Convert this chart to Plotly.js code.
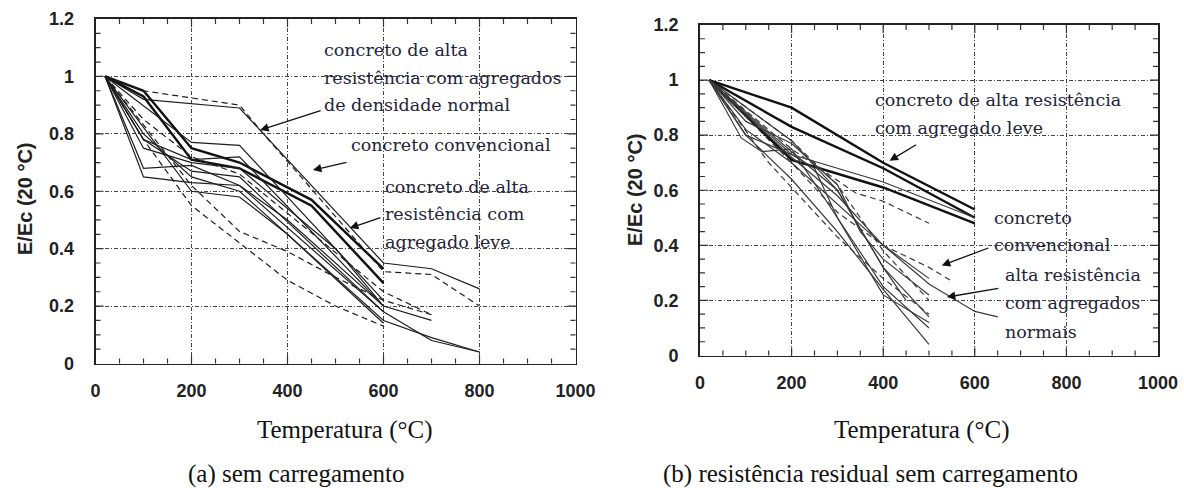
<!DOCTYPE html>
<html><head><meta charset="utf-8">
<script src="https://cdn.plot.ly/plotly-3.0.1.min.js"></script>
<style>html,body{margin:0;padding:0;background:#fff}#chart{width:1184px;height:488px}</style>
</head><body><div id="chart"></div>
<script>
// ---- (a) sem carregamento : solid series ----
const aSolidX = [
  [20,100,300,600,700,800],
  [20,100,200,300,450,600],
  [20,100,200,300,450,600],
  [20,200,300,600],
  [20,100,200,300,600],
  [20,100,200,300,500,600,700],
  [20,100,200,300,600,700,800],
  [20,100,200,300,600,700,800],
  [20,100,200,300,600],
  [20,100,200,300,400,600],
  [20,200,300,400,600]
];
const aSolidY = [
  [1,0.92,0.89,0.35,0.33,0.26],
  [1,0.95,0.75,0.70,0.57,0.33],
  [1,0.93,0.71,0.68,0.55,0.28],
  [1,0.77,0.76,0.22],
  [1,0.78,0.71,0.72,0.20],
  [1,0.75,0.70,0.68,0.40,0.20,0.15],
  [1,0.78,0.67,0.65,0.18,0.08,0.04],
  [1,0.80,0.65,0.60,0.15,0.09,0.04],
  [1,0.65,0.63,0.62,0.18],
  [1,0.68,0.69,0.62,0.50,0.20],
  [1,0.60,0.58,0.45,0.14]
];
const aThick = [false,true,true,false,false,false,false,false,false,false,false];
// ---- (a) dashed series ----
const aDashX = [
  [20,100,300,350,600,700,800],
  [20,100,200,300,400,500,600],
  [20,200,300,400,500,600,700],
  [20,100,200,300,600,700]
];
const aDashY = [
  [1,0.95,0.90,0.80,0.32,0.31,0.20],
  [1,0.78,0.55,0.42,0.29,0.20,0.13],
  [1,0.62,0.46,0.39,0.30,0.22,0.17],
  [1,0.85,0.72,0.66,0.25,0.17]
];
// ---- (b) resistência residual : solid series ----
const bSolidX = [
  [20,200,400,600],
  [20,200,400,600],
  [20,200,400,600],
  [20,200,400,600],
  [20,100,200,300,400,500],
  [20,100,200,250,300,400,500],
  [20,100,200,300,350,400,500],
  [20,100,200,300,400,500],
  [20,90,135,200,300,400,500],
  [20,200,300,400,450],
  [20,200,300,400,500,600,650],
  [20,200,300,400,500]
];
const bSolidY = [
  [1,0.90,0.70,0.53],
  [1,0.83,0.68,0.50],
  [1,0.71,0.61,0.48],
  [1,0.73,0.63,0.50],
  [1,0.80,0.64,0.45,0.24,0.04],
  [1,0.80,0.73,0.68,0.50,0.25,0.10],
  [1,0.85,0.77,0.62,0.45,0.35,0.22],
  [1,0.82,0.70,0.55,0.40,0.28],
  [1,0.79,0.74,0.75,0.50,0.22,0.12],
  [1,0.78,0.60,0.32,0.20],
  [1,0.72,0.58,0.40,0.26,0.16,0.14],
  [1,0.74,0.60,0.32,0.14]
];
const bThick = [true,true,true,false,false,false,false,false,false,false,false,false];
// ---- (b) dashed series ----
const bDashX = [
  [20,200,340,400,500],
  [20,200,300,400,500,550],
  [20,150,300,400,500],
  [20,200,300,400,500]
];
const bDashY = [
  [1,0.75,0.59,0.56,0.48],
  [1,0.70,0.52,0.40,0.32,0.27],
  [1,0.70,0.43,0.28,0.15],
  [1,0.78,0.62,0.38,0.20]
];
// ---- ticks / texts ----
const xMax = 1000, yMax = 1.2;
const xTickStep = 200, xMinorStep = 50;
const yTickStep = 0.2, yMinorStep = 0.05;
const yTitle = "E/Ec (20 °C)";
const xTitle = "Temperatura (°C)";
const captionA = "(a) sem carregamento";
const captionB = "(b) resistência residual sem carregamento";

const traces = [];
function addSet(X, Y, xa, ya, dash, thick, col){
  for (let i=0;i<X.length;i++){
    const t = thick && thick[i];
    traces.push({x:X[i], y:Y[i], xaxis:xa, yaxis:ya, type:'scatter', mode:'lines',
      hoverinfo:'skip', showlegend:false,
      line:{color: t ? '#111' : col, width: t ? 2.4 : 1.2, dash: dash ? '6px,4px' : 'solid'}});
  }
}
addSet(aSolidX, aSolidY, 'x', 'y', false, aThick, '#1e1e1e');
addSet(aDashX, aDashY, 'x', 'y', true, null, '#1e1e1e');
addSet(bSolidX, bSolidY, 'x2', 'y2', false, bThick, '#3a3a3a');
addSet(bDashX, bDashY, 'x2', 'y2', true, null, '#3a3a3a');

const W=1184, H=488;
const tickFont = {family:'Liberation Sans, Arial, sans-serif', size:18, color:'#222', weight:'bold'};
function common(){
  return {ticks:'', mirror:true, showline:true, linecolor:'#222', linewidth:1.8,
    showgrid:true, gridcolor:'#444', gridwidth:1, griddash:'4px,2px,1px,2px', zeroline:false, tickfont:tickFont, fixedrange:true};
}
function axX(domain, anchor){
  return Object.assign(common(), {domain:domain, anchor:anchor, range:[0,xMax], tickmode:'linear', tick0:0, dtick:xTickStep, ticklabelstandoff:10});
}
function axY(domain, anchor){
  return Object.assign(common(), {domain:domain, anchor:anchor, range:[0,yMax], tickmode:'linear', tick0:0, dtick:yTickStep, ticklabelstandoff:16});
}
// inside tick marks on all four sides (axis decoration)
const shapes = [];
function tickMarks(xa, ya, wPx, hPx){
  const tc = {color:'#333', width:1.2};
  const nx = Math.round(xMax / xMinorStep);
  for (let i=1;i<nx;i++){
    const v = i * xMinorStep, len = (i % Math.round(xTickStep/xMinorStep) === 0 ? 8 : 5) / hPx;
    shapes.push({type:'line', xref:xa, yref:ya+' domain', x0:v, x1:v, y0:0, y1:len, line:tc, layer:'above'});
    shapes.push({type:'line', xref:xa, yref:ya+' domain', x0:v, x1:v, y0:1, y1:1-len, line:tc, layer:'above'});
  }
  const ny = Math.round(yMax / yMinorStep);
  for (let i=1;i<ny;i++){
    const v = i * yMinorStep, len = (i % Math.round(yTickStep/yMinorStep) === 0 ? 8 : 5) / wPx;
    shapes.push({type:'line', xref:xa+' domain', yref:ya, x0:0, x1:len, y0:v, y1:v, line:tc, layer:'above'});
    shapes.push({type:'line', xref:xa+' domain', yref:ya, x0:1, x1:1-len, y0:v, y1:v, line:tc, layer:'above'});
  }
}
tickMarks('x', 'y', 480, 344.5);
tickMarks('x2', 'y2', 458, 330);

const pxX = p => p/W, pxY = p => 1 - p/H;
const annFont = {family:'DejaVu Serif, serif', size:17.5, color:'#23233a'};
const anns = [];
function txt(s, px, py, opts){
  anns.push(Object.assign({text:s, xref:'paper', yref:'paper', x:pxX(px), y:pxY(py), xanchor:'left', yanchor:'middle', showarrow:false, font:annFont}, opts||{}));
}
function arrow(xa, ya, hx, hy, ax, ay){
  anns.push({xref:xa, yref:ya, x:hx, y:hy, ax:ax, ay:ay, text:'', showarrow:true, arrowhead:2, arrowsize:1.3, arrowwidth:1.3, arrowcolor:'#111'});
}
// (a) labels
txt('concreto de alta', 322, 50);
txt('resistência com agregados', 322, 78);
txt('de densidade normal', 322, 105);
txt('concreto convencional', 349, 145);
txt('concreto de alta', 383, 187);
txt('resistência com', 383, 214);
txt('agregado leve', 383, 242);
arrow('x','y', 343, 0.813, 62, -20);
arrow('x','y', 453, 0.674, 35, -8);
arrow('x','y', 530, 0.472, 32, -11);
// (b) labels
txt('concreto de alta resistência', 873, 100);
txt('com agregado leve', 873, 128);
txt('concreto', 992, 218);
txt('convencional', 992, 245);
txt('alta resistência', 1003, 275);
txt('com agregados', 1003, 303);
txt('normais', 1003, 332);
arrow('x2','y2', 414, 0.707, 28, -17);
arrow('x2','y2', 528, 0.327, 48, -18);
arrow('x2','y2', 539, 0.212, 53, -9);
// axis titles and captions
const yTitleFont = {family:'Liberation Sans, Arial, sans-serif', size:20, color:'#222', weight:'bold'};
txt(yTitle, 25, 199, {textangle:-90, xanchor:'center', font:yTitleFont});
txt(yTitle, 635, 190, {textangle:-90, xanchor:'center', font:yTitleFont});
const serifFont = {family:'Liberation Serif, Times New Roman, serif', size:25, color:'#111'};
txt(xTitle, 345, 430, {xanchor:'center', font:serifFont});
txt(xTitle, 922, 430, {xanchor:'center', font:serifFont});
txt(captionA, 296, 474, {xanchor:'center', font:serifFont});
txt(captionB, 870, 474, {xanchor:'center', font:serifFont});

const layout = {
  width:W, height:H, margin:{l:0,r:0,t:0,b:0}, paper_bgcolor:'#fff', plot_bgcolor:'#fff', showlegend:false,
  xaxis: axX([95.5/W, 575.5/W], 'y'),
  yaxis: axY([1-363.5/H, 1-19/H], 'x'),
  xaxis2: axX([700/W, 1158/W], 'y2'),
  yaxis2: axY([1-355.5/H, 1-25/H], 'x2'),
  shapes: shapes,
  annotations: anns
};
Plotly.newPlot('chart', traces, layout, {displayModeBar:false, staticPlot:true});
</script></body></html>
